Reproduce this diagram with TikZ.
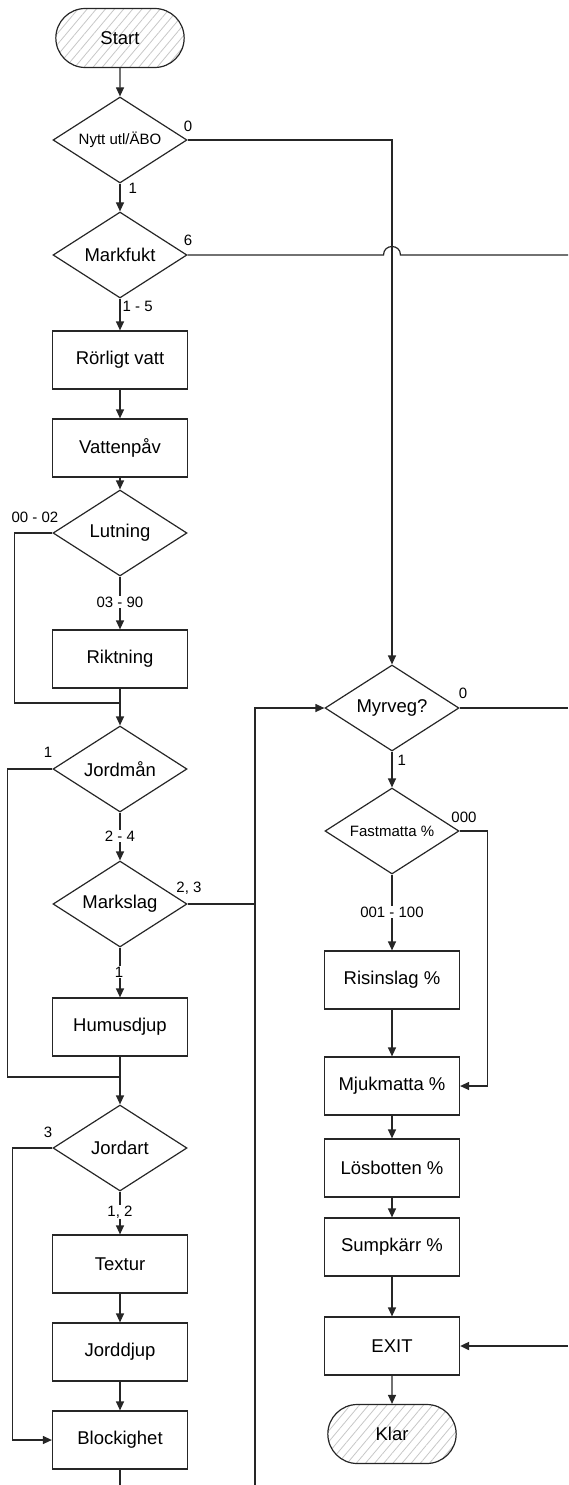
\documentclass[tikz,border=0pt]{standalone}
\usepackage{fontspec}
\setmainfont{Liberation Sans}
\usetikzlibrary{shapes.geometric,shapes.misc,arrows.meta,patterns.meta}
\def\bigfont{\fontsize{18.5}{22}\selectfont}
\def\smallfont{\fontsize{15}{18}\selectfont}
\def\flow{\draw[->]}

\begin{document}
\begin{tikzpicture}[x=1pt,y=-1pt,line width=1.2pt,draw=black!85,
    >={Triangle[length=9pt,width=8pt]},
    box/.style={draw,rectangle,minimum width=135pt,minimum height=58pt,font=\bigfont},
    dia/.style={draw,diamond,aspect=1.56,minimum width=134pt,minimum height=86pt,inner sep=0pt,font=\bigfont},
    term/.style={draw,rounded rectangle,minimum width=135pt,minimum height=59pt,font=\bigfont,
        pattern={Lines[angle=50,distance=7pt,line width=0.8pt]},pattern color=black!22},
    lbl/.style={font=\smallfont,inner sep=1pt,fill=white}]
\useasboundingbox (0,0) rectangle (568,1485);
% left column
\node[term] (start) at (120,38) {Start};
\node[dia,font=\smallfont] (nytt) at (120,140) {Nytt utl/ÄBO};
\node[dia] (markfukt) at (120,255) {Markfukt};
\node[box] (rorlig) at (120,360) {Rörligt vatt};
\node[box] (vattenpav) at (120,448) {Vattenpåv};
\node[dia] (lutning) at (120,533) {Lutning};
\node[box] (riktning) at (120,659) {Riktning};
\node[dia] (jordman) at (120,769) {Jordmån};
\node[dia] (markslag) at (120,904) {Markslag};
\node[box] (humus) at (120,1027) {Humusdjup};
\node[dia] (jordart) at (120,1148) {Jordart};
\node[box] (textur) at (120,1264) {Textur};
\node[box] (jorddjup) at (120,1352) {Jorddjup};
\node[box] (block) at (120,1440) {Blockighet};
% right column
\node[dia] (myrveg) at (392,708) {Myrveg?};
\node[dia,font=\smallfont] (fastmatta) at (392,831) {Fastmatta \%};
\node[box] (risinslag) at (392,980) {Risinslag \%};
\node[box] (mjukmatta) at (392,1086) {Mjukmatta \%};
\node[box] (losbotten) at (392,1168) {Lösbotten \%};
\node[box] (sumpkarr) at (392,1247) {Sumpkärr \%};
\node[box] (exit) at (392,1346) {EXIT};
\node[term] (klar) at (392,1434) {Klar};
% joins and page edges
\coordinate (jA) at (120,703);
\coordinate (jB) at (120,1077);
\coordinate (mC) at (255,904);
\coordinate (bA) at (120,1485);
\coordinate (bB) at (255,1485);
\coordinate (eA) at (568,255);
\coordinate (eB) at (568,708);
\coordinate (eC) at (568,1346);

\flow (start) -- (nytt);
\flow (nytt) -- (markfukt);
\flow (nytt.east) -| (myrveg.north);
\draw (markfukt.east) -- (383.5,255) .. controls (383.5,243.7) and (400.5,243.7) .. (400.5,255) -- (eA);
\flow (markfukt) -- (rorlig);
\flow (rorlig) -- (vattenpav);
\flow (vattenpav) -- (lutning);
\flow (lutning) -- (riktning);
\draw (lutning.west) -- ++(-38,0) |- (jA);
\flow (riktning) -- (jordman);
\draw (jordman.west) -- ++(-45,0) |- (jB);
\flow (jordman) -- (markslag);
\flow (markslag) -- (humus);
\draw (markslag.east) -- (mC);
\flow (bB) |- (myrveg.west);
\flow (humus) -- (jordart);
\flow (jordart.west) -- ++(-40,0) |- (block.west);
\flow (jordart) -- (textur);
\flow (textur) -- (jorddjup);
\flow (jorddjup) -- (block);
\draw (block) -- (bA);
\draw (myrveg.east) -- (eB);
\flow (myrveg) -- (fastmatta);
\flow (fastmatta.east) -- ++(28,0) |- (mjukmatta.east);
\flow (fastmatta) -- (risinslag);
\flow (risinslag) -- (mjukmatta);
\flow (mjukmatta) -- (losbotten);
\flow (losbotten) -- (sumpkarr);
\flow (sumpkarr) -- (exit);
\draw[->,line width=1.8pt] (eC) -- (exit);
\flow (exit) -- (klar);
% labels
\node[lbl] (l0a) at (188,126) {0};
\node[lbl,anchor=west] (l1a) at (127,188) {1};
\node[lbl] (l6) at (188,240) {6};
\node[lbl,anchor=west] (l15) at (121,306) {1 - 5};
\node[lbl] (l0002) at (35,517) {00 - 02};
\node[lbl] (l0390) at (120,602) {03 - 90};
\node[lbl] (l1b) at (48,752) {1};
\node[lbl] (l24) at (120,836) {2 - 4};
\node[lbl] (l23) at (189,888) {2, 3};
\node[lbl] (l1c) at (119,972) {1};
\node[lbl] (l3) at (48,1132) {3};
\node[lbl] (l12) at (120,1212) {1, 2};
\node[lbl] (l0b) at (463,693) {0};
\node[lbl,anchor=west] (l1d) at (396,760) {1};
\node[lbl] (l000) at (464,817) {000};
\node[lbl] (l001) at (392,912) {001 - 100};
\end{tikzpicture}
\end{document}
